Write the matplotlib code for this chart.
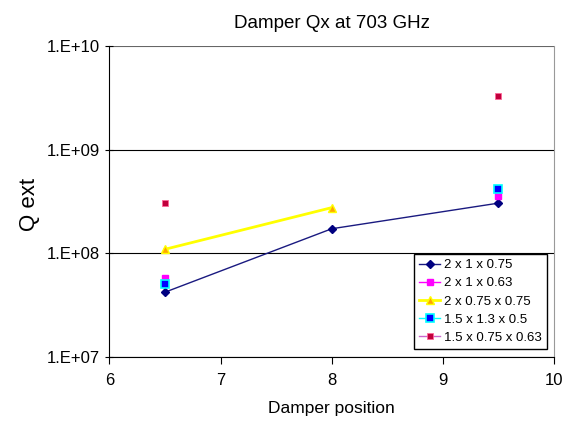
import matplotlib.pyplot as plt
import numpy as np

plt.rcParams['font.family'] = ['Liberation Sans', 'DejaVu Sans']

positions = np.array([6.5, 8.0, 9.5])
labels = ["2 x 1 x 0.75", "2 x 1 x 0.63", "2 x 0.75 x 0.75", "1.5 x 1.3 x 0.5", "1.5 x 0.75 x 0.63"]
q_2x1x075 = np.array([4.2e7, 1.72e8, 3.04e8])
q_2x1x063 = np.array([5.8e7, np.nan, 3.55e8])
q_2x075x075 = np.array([1.09e8, 2.75e8, np.nan])
q_15x13x05 = np.array([5.0e7, np.nan, 4.12e8])
q_15x075x063 = np.array([3.07e8, np.nan, 3.27e9])

fig = plt.figure(figsize=(5.72, 4.24), dpi=100)
ax = fig.add_axes([0.1914, 0.1587, 0.7771, 0.7328])

ax.plot(positions, q_2x1x075, color='#1a1a80', lw=1, marker='D', ms=4,
        mfc='#000080', mec='#000080', label=labels[0])
ax.plot(positions, q_2x1x063, color='#ff00ff', lw=1, marker='s', ms=5,
        mfc='#ff00ff', mec='#ff00ff', label=labels[1])
ax.plot(positions, q_2x075x075, color='#ffff00', lw=2, marker='^', ms=6,
        mfc='#ffa500', mec='#ffff00', label=labels[2])
ax.plot(positions, q_15x13x05, color='#00ffff', lw=1, marker='s', ms=5.5,
        mfc='#0000ff', mec='#00ffff', mew=1.2, label=labels[3])
ax.plot(positions, q_15x075x063, color='#cc66cc', lw=1, marker='s', ms=5,
        mfc='#c0003c', mec='#ff6699', mew=0.6, label=labels[4])

ax.set_yscale('log')
ax.set_ylim(1e7, 1e10)
ax.set_xlim(6, 10)
ax.set_xticks([6, 7, 8, 9, 10])
ax.set_yticks([1e7, 1e8, 1e9, 1e10])
ax.set_yticklabels(['1.E+07', '1.E+08', '1.E+09', '1.E+10'])
ax.yaxis.set_minor_locator(plt.NullLocator())

ax.grid(axis='y', color='black', lw=0.8)
ax.yaxis.get_gridlines()[-1].set_color('#666666')
ax.spines['top'].set_visible(False)
ax.spines['right'].set_color('#999999')
ax.tick_params(axis='both', labelsize=12, length=5, width=0.8)
ax.tick_params(axis='x', pad=7)
ax.tick_params(axis='y', direction='inout', length=6, pad=4)

ax.set_title('Damper Qx at 703 GHz', fontsize=13.5, pad=13)
ax.set_xlabel('Damper position', fontsize=12.5, labelpad=9)
ax.set_ylabel('Q ext', fontsize=16)
ax.yaxis.set_label_coords(-0.156, 0.49)

leg = ax.legend(loc='lower right', bbox_to_anchor=(0.985, 0.024), fontsize=9.5,
                frameon=True, fancybox=False, edgecolor='black', framealpha=1,
                handlelength=1.6, handletextpad=0.3, borderpad=0.4, labelspacing=0.45,
                borderaxespad=0)
leg.get_frame().set_linewidth(1)

fig.savefig('out.png', dpi=100)
